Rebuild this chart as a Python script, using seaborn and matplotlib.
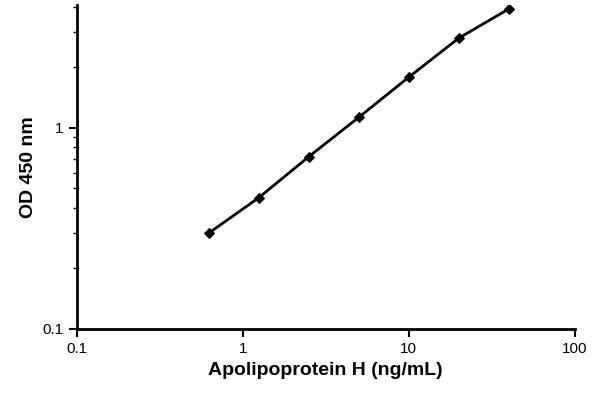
import matplotlib
matplotlib.use("Agg")
import matplotlib.pyplot as plt
import seaborn as sns
import pandas as pd
from matplotlib.ticker import FixedLocator, FixedFormatter, LogLocator, NullFormatter

conc = [0.625, 1.25, 2.5, 5, 10, 20, 40]
od = [0.30, 0.45, 0.72, 1.13, 1.79, 2.80, 3.91]
df = pd.DataFrame({"conc": conc, "od": od})

sns.set_style("white")
plt.rcParams["font.family"] = ["Liberation Sans", "DejaVu Sans"]
plt.rcParams["text.color"] = "black"
plt.rcParams["axes.labelcolor"] = "black"
plt.rcParams["xtick.color"] = "black"
plt.rcParams["ytick.color"] = "black"
fig = plt.figure(figsize=(6, 4.04), dpi=100)
ax = fig.add_axes([0.128, 0.186, 0.83, 0.802])
sns.lineplot(data=df, x="conc", y="od", ax=ax, color="black", lw=2,
             marker="D", markersize=5, markeredgecolor="black")
ax.set_xscale("log"); ax.set_yscale("log")
ax.set_xlim(0.1, 100); ax.set_ylim(0.1, 4.1)
ax.xaxis.set_major_locator(FixedLocator([0.1, 1, 10, 100]))
ax.xaxis.set_major_formatter(FixedFormatter(["0.1", "1", "10", "100"]))
ax.xaxis.set_minor_locator(FixedLocator([]))
ax.yaxis.set_major_locator(FixedLocator([0.1, 1]))
ax.yaxis.set_major_formatter(FixedFormatter(["0.1", "1"]))
ax.yaxis.set_minor_locator(LogLocator(base=10, subs=range(2, 10)))
ax.yaxis.set_minor_formatter(NullFormatter())
for s in ["top", "right"]:
    ax.spines[s].set_visible(False)
for s in ["left", "bottom"]:
    ax.spines[s].set_linewidth(2); ax.spines[s].set_color("black")
ax.tick_params(axis="both", which="major", direction="out", length=6, width=1.5, labelsize=11, bottom=True, left=True)
ax.tick_params(axis="y", which="minor", direction="out", length=3, width=1, left=True)
ax.set_xlabel("Apolipoprotein H (ng/mL)", fontsize=14, fontweight="bold")
ax.set_ylabel("OD 450 nm", fontsize=14, fontweight="bold")
fig.savefig("out.png", dpi=100)
